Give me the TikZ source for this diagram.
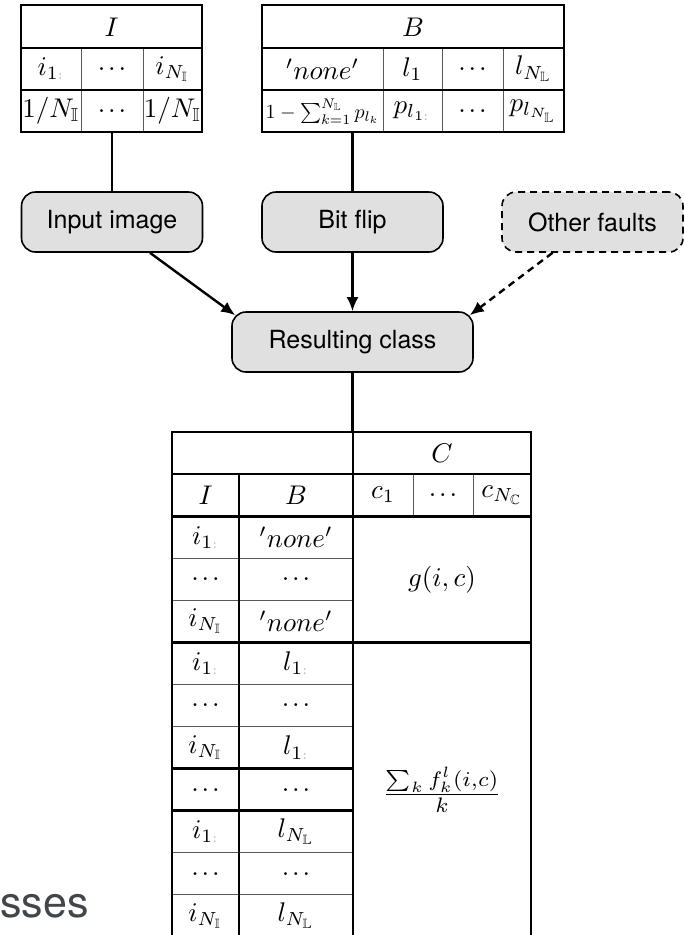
\documentclass[tikz,border=0pt]{standalone}
\usepackage{amssymb}
\usepackage{graphicx}
\usepackage{fontspec}
\newfontfamily\boxfont{TeX Gyre Heros}
\usetikzlibrary{arrows.meta}
\newcommand{\mth}[1]{\scalebox{2.7}{$#1$}}
\newcommand{\mths}[1]{\scalebox{2.0}{$#1$}}
\newcommand{\dt}{\textcolor{black!30}{\scriptscriptstyle :}}
\newcommand{\dts}{\mth{.\mkern2mu.\mkern2mu.}}
\definecolor{boxfill}{RGB}{224,224,224}
\definecolor{slidegray}{RGB}{65,70,75}
\begin{document}
\begin{tikzpicture}[x=1pt,y=-1pt,
  thk/.style={line width=2.6pt},
  thn/.style={line width=1pt, black!65},
  fbox/.style={draw, line width=1.6pt, rounded corners=14pt, fill=boxfill,
    minimum width=181pt, minimum height=60pt, inner sep=0pt,
    font=\boxfont\fontsize{25}{30}\selectfont},
  cell/.style={inner sep=0pt},
  conn/.style={line width=2.4pt},
  arr/.style={conn, -{Latex[length=14pt,width=12pt]}}]
\useasboundingbox (0,0) rectangle (685,935);

% ---------- table I ----------
\node[inner sep=0, minimum width=181pt, minimum height=127pt] (tabI) at (111.5,68.5) {};
\draw[thn] (81,48)--(81,132) (143,48)--(143,132);
\draw[thk] (21,48)--(202,48) (21,90)--(202,90);
\draw[thk] (21,5) rectangle (202,132);
\node[cell] (Ih) at (111.5,27) {\mth{I}};
\node[cell] (Ia) at (51,69) {\mth{i_{1\dt}}};
\node[cell] (Ib) at (112,69) {\dts};
\node[cell] (Ic) at (172.5,69) {\mth{i_{N_{\mathbb{I}}}}};
\node[cell] (Id) at (51,111) {\mth{1/N_{\mathbb{I}}}};
\node[cell] (Ie) at (112,111) {\dts};
\node[cell] (If) at (172.5,111) {\mth{1/N_{\mathbb{I}}}};

% ---------- table B ----------
\node[inner sep=0, minimum width=302pt, minimum height=127pt] (tabB) at (413,68.5) {};
\draw[thn] (383,48)--(383,132) (442,48)--(442,132) (503,48)--(503,132);
\draw[thk] (262,48)--(564,48) (262,90)--(564,90);
\draw[thk] (262,5) rectangle (564,132);
\node[cell] (Bh) at (413,27) {\mth{B}};
\node[cell] (Ba) at (322.5,69) {\mth{'none'}};
\node[cell] (Bb) at (412.5,69) {\mth{l_1}};
\node[cell] (Bc) at (472.5,69) {\dts};
\node[cell] (Bd) at (533.5,69) {\mth{l_{N_{\mathbb{L}}}}};
\node[cell] (Be) at (322.5,112) {\mths{1-\sum_{k=1}^{N_{\mathbb{L}}} p_{l_k}}};
\node[cell] (Bf) at (412.5,111) {\mth{p_{l_{1\dt}}}};
\node[cell] (Bg) at (472.5,111) {\dts};
\node[cell] (Bh2) at (533.5,111) {\mth{p_{l_{N_{\mathbb{L}}}}}};

% ---------- boxes ----------
\node[fbox] (inp) at (112,222) {Input image};
\node[fbox] (bit) at (352.5,222) {Bit flip};
\node[fbox, dash pattern=on 7pt off 5pt] (oth) at (592.5,222) {Other faults};
\node[fbox, minimum width=241pt] (res) at (352.5,342) {Resulting class};

% ---------- connectors ----------
\draw[conn] (tabI.south -| inp.north) -- (inp.north);
\draw[conn] (tabB.south -| bit.north) -- (bit.north);
\draw[arr] ([xshift=38pt]inp.south) -- ([shift={(4,4)}]res.north west);
\draw[arr] (bit.south) -- (res.north);
\draw[arr, dash pattern=on 7pt off 5pt] ([xshift=-40pt]oth.south) -- ([shift={(-4,4)}]res.north east);

% ---------- table C ----------
\node[inner sep=0, minimum width=359pt, minimum height=505pt] (tabC) at (351.5,684.5) {};
\draw[conn] (res.south) -- (res.south |- tabC.north);
% thin lines
\draw[thn] (413,474.1)--(413,516.2) (473,474.1)--(473,516.2);
\draw[thn] (172,558.2)--(353,558.2) (172,600.3)--(353,600.3)
           (172,684.5)--(353,684.5) (172,726.6)--(353,726.6)
           (172,852.8)--(353,852.8) (172,894.9)--(353,894.9);
% thick lines
\draw[thk] (172,474.1)--(531,474.1) (172,516.2)--(531,516.2) (172,642.4)--(531,642.4);
\draw[thk] (172,768.6)--(353,768.6) (172,810.7)--(353,810.7);
\draw[thk] (239,474.1)--(239,937) (353,432)--(353,937);
\draw[thk] (172,432) rectangle (531,937);

\node[cell] (Ch) at (442,453) {\mth{C}};
\node[cell] (CI) at (205.5,495.1) {\mth{I}};
\node[cell] (CB) at (296,495.1) {\mth{B}};
\node[cell] (Cc1) at (383,495.1) {\mth{c_1}};
\node[cell] (Cc2) at (443,495.1) {\dts};
\node[cell] (Cc3) at (502,495.1) {\mth{c_{N_{\mathbb{C}}}}};

\node[cell] (r1a) at (205.5,537.2) {\mth{i_{1\dt}}};
\node[cell] (r1b) at (296,537.2) {\mth{'none'}};
\node[cell] (r2a) at (205.5,579.3) {\dts};
\node[cell] (r2b) at (296,579.3) {\dts};
\node[cell] (r3a) at (205.5,621.4) {\mth{i_{N_{\mathbb{I}}}}};
\node[cell] (r3b) at (296,621.4) {\mth{'none'}};
\node[cell] (r4a) at (205.5,663.4) {\mth{i_{1\dt}}};
\node[cell] (r4b) at (296,663.4) {\mth{l_{1\dt}}};
\node[cell] (r5a) at (205.5,705.5) {\dts};
\node[cell] (r5b) at (296,705.5) {\dts};
\node[cell] (r6a) at (205.5,747.6) {\mth{i_{N_{\mathbb{I}}}}};
\node[cell] (r6b) at (296,747.6) {\mth{l_{1\dt}}};
\node[cell] (r7a) at (205.5,789.7) {\dts};
\node[cell] (r7b) at (296,789.7) {\dts};
\node[cell] (r8a) at (205.5,831.8) {\mth{i_{1\dt}}};
\node[cell] (r8b) at (296,831.8) {\mth{l_{N_{\mathbb{L}}}}};
\node[cell] (r9a) at (205.5,873.8) {\dts};
\node[cell] (r9b) at (296,873.8) {\dts};
\node[cell] (r10a) at (205.5,915.9) {\mth{i_{N_{\mathbb{I}}}}};
\node[cell] (r10b) at (296,915.9) {\mth{l_{N_{\mathbb{L}}}}};

\node[cell] (gic) at (442,579.3) {\mth{g(i,c)}};
\node[cell] (frac) at (442,789.7) {\scalebox{3.0}{$\frac{\sum_k f_k^l(i,c)}{k}$}};

% ---------- slide fragment ----------
\node[font=\boxfont\fontsize{43}{46}\selectfont, text=slidegray, anchor=base east, inner sep=0] (cls) at (89,917) {sses};
\end{tikzpicture}
\end{document}
